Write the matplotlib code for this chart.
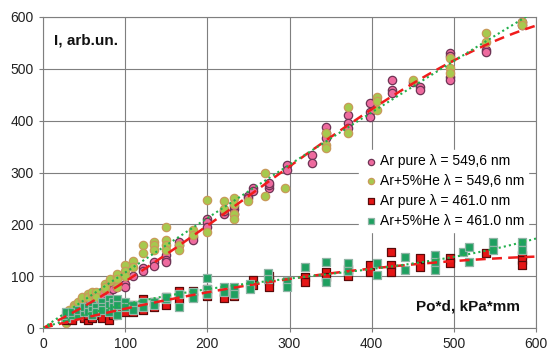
import numpy as np
import matplotlib
matplotlib.use("Agg")
import matplotlib.pyplot as plt

plt.rcParams['font.family'] = ['Liberation Sans', 'DejaVu Sans']

# Ar pure, lambda = 549.6 nm (pink circles)
ar549_x = [28, 28, 35, 35, 42, 42, 50, 50, 55, 55, 60, 65, 65, 72, 72, 80, 80, 85, 90, 90,
           100, 100, 110, 122, 122, 135, 135, 150, 150, 150, 165, 165, 182, 182, 200, 200, 200,
           220, 220, 232, 232, 232, 250, 250, 255, 255, 275, 275, 275, 297, 297, 327, 327,
           345, 345, 345, 371, 371, 371, 398, 398, 398, 425, 425, 425, 450, 459, 459,
           495, 495, 495, 495, 539, 539, 583, 583]
ar549_y = [15, 20, 25, 30, 35, 40, 45, 50, 50, 45, 55, 60, 55, 70, 65, 75, 70, 75, 85, 80,
           85, 80, 100, 115, 110, 128, 120, 140, 131, 128, 160, 165, 175, 170, 210, 205, 195,
           220, 225, 230, 235, 220, 255, 250, 270, 265, 270, 275, 280, 315, 305, 334, 318,
           388, 376, 367, 411, 396, 386, 434, 417, 407, 479, 460, 453, 475, 465, 460,
           530, 524, 485, 479, 537, 533, 590, 585]

# Ar+5%He, lambda = 549.6 nm (green circles)
he549_x = [28, 28, 28, 32, 32, 38, 38, 38, 42, 42, 48, 48, 55, 55, 60, 60, 65, 65, 75, 75, 75,
           82, 82, 90, 90, 90, 90, 100, 100, 100, 110, 110, 122, 122, 135, 135, 135,
           150, 150, 150, 150, 165, 165, 182, 182, 200, 200, 220, 220, 232, 232, 232, 232,
           250, 270, 270, 295, 345, 345, 345, 371, 371, 406, 406, 406, 450, 495, 495, 495,
           539, 539, 583, 583]
he549_y = [10, 20, 25, 30, 35, 35, 45, 40, 45, 50, 55, 60, 65, 60, 65, 70, 70, 60, 85, 75, 80,
           90, 95, 100, 105, 95, 80, 122, 110, 100, 130, 118, 160, 145, 165, 160, 150,
           195, 170, 160, 150, 160, 150, 190, 180, 247, 185, 245, 230, 250, 240, 220, 210,
           245, 300, 255, 270, 353, 347, 376, 427, 376, 446, 437, 421, 479, 521, 502, 492,
           569, 552, 590, 585]

# Ar pure, lambda = 461.0 nm (red squares)
ar461_x = [28, 28, 35, 35, 42, 50, 50, 55, 55, 60, 60, 65, 65, 72, 72, 80, 80, 80, 85, 85,
           90, 90, 100, 100, 110, 110, 122, 122, 135, 135, 150, 150, 165, 165, 182, 182,
           200, 200, 220, 220, 232, 232, 255, 255, 275, 275, 275, 319, 319, 345, 345,
           371, 371, 398, 398, 424, 424, 424, 459, 459, 495, 495, 539, 583, 583, 583]
ar461_y = [15, 20, 20, 15, 25, 20, 30, 15, 25, 30, 20, 25, 35, 30, 20, 35, 15, 45, 25, 50,
           30, 45, 40, 30, 45, 30, 55, 35, 50, 40, 60, 45, 72, 55, 72, 60,
           75, 62, 70, 58, 75, 62, 92, 82, 100, 90, 80, 98, 89, 108, 98,
           113, 100, 121, 108, 147, 122, 108, 135, 118, 135, 125, 144, 141, 131, 122]

# Ar+5%He, lambda = 461.0 nm (green squares)
he461_x = [28, 28, 28, 35, 35, 42, 42, 42, 50, 50, 50, 55, 55, 60, 60, 60, 65, 65, 72, 72, 72,
           80, 80, 80, 85, 85, 90, 90, 90, 100, 100, 110, 110, 122, 122, 135, 135, 150, 150,
           165, 165, 182, 182, 199, 199, 199, 220, 220, 232, 232, 252, 252, 274, 274, 297, 297,
           319, 345, 345, 371, 371, 406, 406, 440, 440, 477, 477, 477, 511, 519, 519, 548, 548,
           583, 583]
he461_y = [20, 25, 30, 25, 30, 30, 25, 35, 35, 30, 40, 40, 30, 45, 35, 25, 40, 30, 50, 40, 35,
           55, 45, 30, 50, 40, 55, 45, 25, 50, 40, 45, 35, 50, 40, 50, 45, 55, 60,
           65, 40, 70, 58, 96, 75, 65, 80, 70, 80, 65, 85, 75, 106, 95, 90, 80,
           118, 127, 89, 125, 110, 125, 102, 137, 112, 141, 127, 112, 147, 157, 128, 166, 151,
           166, 151]

labels = ['Ar pure \u03bb = 549,6 nm', 'Ar+5%He \u03bb = 549,6 nm',
          'Ar pure \u03bb = 461.0 nm', 'Ar+5%He \u03bb = 461.0 nm']
xticks = [0, 100, 200, 300, 400, 500, 600]
yticks = [0, 100, 200, 300, 400, 500, 600]

fig = plt.figure(figsize=(5.48, 3.54), dpi=100)
ax = fig.add_axes([43/548, 1-328/354, 493/548, 311/354])

ax.scatter(ar549_x, ar549_y, s=36, marker='o', facecolor='#ee6a9e', edgecolor='#6e3455',
           linewidth=0.9, label=labels[0], zorder=3)
ax.scatter(he549_x, he549_y, s=36, marker='o', facecolor='#a6c94e', edgecolor='#c99a5a',
           linewidth=0.9, label=labels[1], zorder=3)
ax.scatter(ar461_x, ar461_y, s=30, marker='s', facecolor='#e51515', edgecolor='#5a0a0a',
           linewidth=0.9, label=labels[2], zorder=3)
ax.scatter(he461_x, he461_y, s=30, marker='s', facecolor='#1ea060', edgecolor='#8fb5a5',
           linewidth=0.9, label=labels[3], zorder=3)


def origin_poly_fit(x, y, order):
    # least-squares polynomial trend line forced through the origin
    x = np.asarray(x, float)
    y = np.asarray(y, float)
    A = np.column_stack([x ** k for k in range(1, order + 1)])
    coef, *_ = np.linalg.lstsq(A, y, rcond=None)
    return coef


xf = np.linspace(0, 600, 400)
for xs, ys, style, order in [(ar549_x, ar549_y, 'red', 3), (he549_x, he549_y, 'green', 2),
                             (ar461_x, ar461_y, 'red', 2), (he461_x, he461_y, 'green', 3)]:
    coef = origin_poly_fit(xs, ys, order)
    yf = sum(c * xf ** (k + 1) for k, c in enumerate(coef))
    if style == 'red':
        ax.plot(xf, yf, color='#f01c1c', lw=1.8, ls=(0, (4, 2.5)), zorder=4)
    else:
        ax.plot(xf, yf, color='#22b04c', lw=1.5, ls=(0, (1, 1.5)), zorder=4)

ax.set_xlim(0, 600)
ax.set_ylim(0, 600)
ax.set_xticks(xticks)
ax.set_yticks(yticks)
ax.grid(True, color='#7f7f7f', lw=0.8)
ax.set_axisbelow(True)
for sp in ax.spines.values():
    sp.set_color('#7f7f7f')
    sp.set_linewidth(0.8)
ax.tick_params(axis='both', colors='#7f7f7f', labelcolor='#222222', labelsize=10,
               length=3, width=0.8)

leg = ax.legend(loc='upper right', bbox_to_anchor=(0.984, 0.572), frameon=True,
                fontsize=10, handletextpad=0.0, labelspacing=0.42, borderpad=0.3,
                borderaxespad=0, handlelength=1.2, markerscale=0.75, scatterpoints=1)
leg.get_frame().set_facecolor('white')
leg.get_frame().set_edgecolor('white')
leg.get_frame().set_alpha(1)
leg.get_frame().set_boxstyle('square', pad=0)
leg.set_zorder(5)

ax.text(0.022, 0.926, 'I, arb.un.', transform=ax.transAxes, fontsize=11,
        fontweight='bold', ha='left', va='center', color='#111111')
ax.text(0.968, 0.068, 'Po*d, kPa*mm', transform=ax.transAxes, fontsize=11,
        fontweight='bold', ha='right', va='center', color='#111111')

fig.savefig('out.png', dpi=100)
